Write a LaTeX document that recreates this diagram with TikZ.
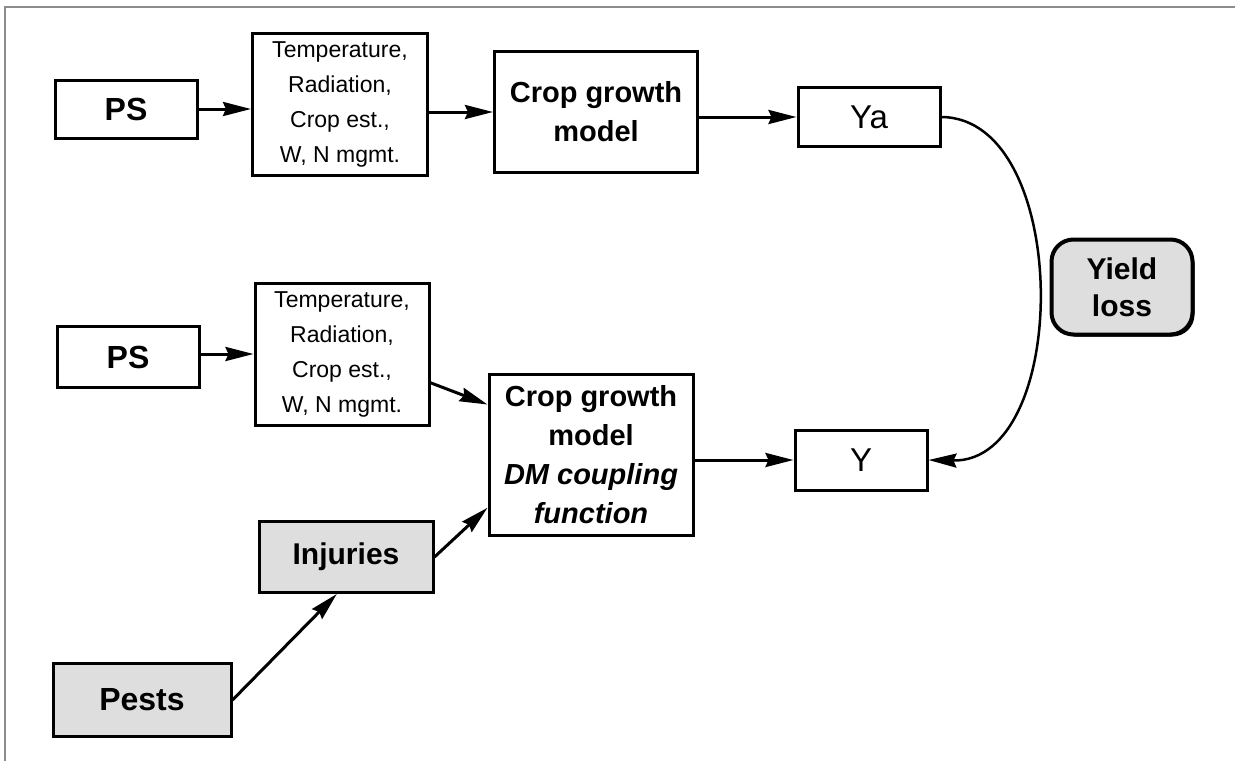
\documentclass[tikz,border=0pt]{standalone}
\usepackage{fontspec}
\setmainfont{Liberation Sans}
\usetikzlibrary{arrows.meta,shadows}

\tikzstyle{box} = [draw, line width=3pt, inner sep=0pt, align=center]
\tikzstyle{inputs} = [box, font=\fontsize{23}{35}\selectfont]
\tikzstyle{model} = [box, font=\fontsize{29}{39}\selectfont\bfseries]
\tikzstyle{pest} = [box, fill=black!13]
\tikzstyle{flow} = [->, line width=3pt]
\def\framecol{black!45}

\begin{document}
\begin{tikzpicture}[x=1pt, y=-1pt, >={Stealth[length=28pt,width=14pt,inset=3pt]}]
                \useasboundingbox (0,0) rectangle (1235,761);
                % frame of the figure
                \draw[\framecol, line width=1.3pt] (5,761) -- (5,7) -- (1235,7);
                % attainable yield chain
                \node[box, minimum width=142pt, minimum height=58pt,
                    font=\fontsize{32}{36}\selectfont\bfseries] (ps1) at (126,109) {PS};
                \node[inputs, minimum width=175pt, minimum height=142pt] (temp1) at (340,104)
                    {Temperature,\\Radiation,\\Crop est.,\\W, N mgmt.};
                \node[model, minimum width=203pt, minimum height=121pt] (cgm1) at (596,112)
                    {Crop growth\\model};
                \node[box, minimum width=142pt, minimum height=59pt,
                    font=\fontsize{33}{36}\selectfont] (ya) at (869,117) {Ya};
                % actual yield chain
                \node[box, minimum width=142pt, minimum height=61pt,
                    font=\fontsize{32}{36}\selectfont\bfseries] (ps2) at (128,357) {PS};
                \node[inputs, minimum width=174pt, minimum height=142pt] (temp2) at (342,354)
                    {Temperature,\\Radiation,\\Crop est.,\\W, N mgmt.};
                \node[model, minimum width=204pt, minimum height=161pt] (cgm2) at (591,455)
                    {Crop growth\\model\\\itshape DM coupling\\\itshape function};
                \node[box, minimum width=132pt, minimum height=60pt,
                    font=\fontsize{33}{36}\selectfont] (y) at (861,460) {Y};
                \node[pest, minimum width=174pt, minimum height=71pt,
                    font=\fontsize{30}{34}\selectfont\bfseries] (inj) at (346,557) {Injuries};
                \node[pest, minimum width=178pt, minimum height=73pt,
                    font=\fontsize{32}{36}\selectfont\bfseries] (pests) at (142,700) {Pests};
                % yield loss
                \node[box, line width=4pt, fill=black!13, rounded corners=22pt,
                    drop shadow={shadow xshift=2pt, shadow yshift=-2pt, fill=black, opacity=1},
                    minimum width=141pt, minimum height=95pt,
                    font=\fontsize{30}{37}\selectfont\bfseries] (loss) at (1122,287) {Yield\\loss};
                % Draw edges
                \draw[flow] (ps1.east) -- (ps1.east -| temp1.west);
                \draw[flow] (temp1.east |- cgm1.west) -- (cgm1.west);
                \draw[flow] (cgm1.east |- ya.west) -- (ya.west);
                \draw[flow] (ps2.east |- temp2.west) -- (temp2.west);
                \draw[flow] (temp2.-18) -- (cgm2.154);
                \draw[flow] (inj.east) -- (cgm2.-153);
                \draw[flow] (pests.east) -- (inj.256);
                \draw[flow] (cgm2.east |- y.west) -- (y.west);
                \draw[->, line width=2.5pt] (ya.east) .. controls (1072,118) and (1072,463) .. (y.east);
        \end{tikzpicture}
\end{document}
